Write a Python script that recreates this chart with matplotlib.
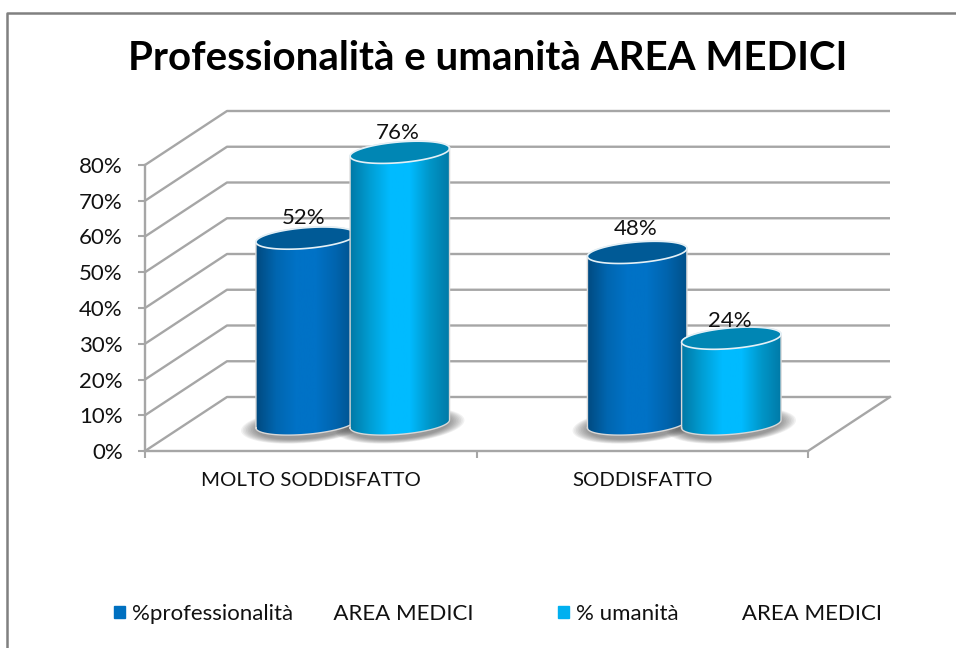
import matplotlib
matplotlib.use("Agg")
import matplotlib.pyplot as plt
import numpy as np
from matplotlib.colors import LinearSegmentedColormap
from matplotlib.patches import Patch, Polygon

plt.rcParams['font.family'] = ['Lato', 'DejaVu Sans']

# data
title = "Professionalità e umanità AREA MEDICI"
categories = ["MOLTO SODDISFATTO", "SODDISFATTO"]
series_names = ["%professionalità       AREA MEDICI", "% umanità           AREA MEDICI"]
professionalita = [52, 48]
umanita = [76, 24]
y_ticks = [0, 10, 20, 30, 40, 50, 60, 70, 80]

# style
W, H = 956, 648
GRID = "#a6a6a6"
DEPTH_X = 82 / 331.5   # depth of the box in data units
DEPTH_Y = 54 / 3.575
BAR_W = 0.30
SHIFT = 0.142
RY = 2.9               # half height of the ellipses, in % units
SLOPE = 0.08 * 331.5 / 3.575   # tilt of the ellipses
colors = ["#0070c0", "#00b0f0"]
tops = ["#005a96", "#0086b4"]
grads = [["#004a80", "#0066b0", "#0072c6", "#0072c6", "#0064ae", "#00508a"],
         ["#0079a6", "#009ed4", "#00bbff", "#00bbff", "#0096c8", "#0079a6"]]
label_up = [[5.5, 6.5], [5.5, 4.8]]

fig = plt.figure(figsize=(W / 100, H / 100), dpi=100)
ax = fig.add_axes([145 / W, 1 - 451 / H, (808 - 145) / W, (451 - 165) / H])
ax.patch.set_alpha(0)

# outer frame, open on the right and at the bottom
fig.add_artist(plt.Line2D([7 / W, 7 / W, 1], [0, 1 - 13 / H, 1 - 13 / H],
                          color="#808080", lw=1.8))
fig.text(488 / W, 1 - 58 / H, title, ha="center", va="center",
         fontsize=29, fontweight="bold", color="black")

# back wall and side
for v in y_ticks:
    ax.plot([0, DEPTH_X, 2 + DEPTH_X], [v, v + DEPTH_Y, v + DEPTH_Y],
            color=GRID, lw=1.7, clip_on=False, zorder=1, solid_capstyle="butt")
ax.plot([2, 2 + DEPTH_X], [0, DEPTH_Y], color=GRID, lw=1.7, clip_on=False, zorder=1)


def ellipse(cx, cy, a, b, t):
    return cx + a * np.cos(t), cy + b * np.sin(t) + SLOPE * a * np.cos(t)


def cylinder(cx, value, grad, top, z):
    base = DEPTH_Y / 2
    a = BAR_W / 2
    # shadow
    for k in np.linspace(1.3, 1.0, 10):
        x, y = ellipse(cx, base - 0.4, a * k, RY * k * 1.3, np.linspace(0, 2 * np.pi, 80))
        ax.fill(x, y, color="#404040", alpha=0.07, lw=0, clip_on=False, zorder=2)
    # body
    xb, yb = ellipse(cx, base, a, RY, np.linspace(np.pi, 2 * np.pi, 50))
    xt, yt = ellipse(cx, base + value, a, RY, np.linspace(0, np.pi, 50))
    body = Polygon(np.column_stack([np.r_[xb, xt], np.r_[yb, yt]]), closed=True,
                   transform=ax.transData)
    cmap = LinearSegmentedColormap.from_list("g", grad)
    im = ax.imshow(np.linspace(0, 1, 128).reshape(1, -1), cmap=cmap, aspect="auto",
                   extent=[cx - a, cx + a, -10, 100], zorder=z)
    im.set_clip_box(fig.bbox)
    im.set_clip_path(body)
    ax.plot(np.r_[xb, xt, xb[0]], np.r_[yb, yt, yb[0]], color="#d8d8d8", lw=1.0,
            clip_on=False, zorder=z + 0.1)
    # top face
    x, y = ellipse(cx, base + value, a, RY, np.linspace(0, 2 * np.pi, 100))
    ax.fill(x, y, color=top, lw=0, clip_on=False, zorder=z + 0.2)
    ax.plot(x, y, color="#e4f0f6", lw=1.2, clip_on=False, zorder=z + 0.3)


for i in range(2):
    center = i + 0.503 + DEPTH_X / 2
    for j, vals in enumerate([professionalita, umanita]):
        cx = center + (j * 2 - 1) * SHIFT
        cylinder(cx, vals[i], grads[j], tops[j], 3 + i * 2 + j)
        ax.text(cx - 0.005, DEPTH_Y / 2 + vals[i] + label_up[j][i], f"{vals[i]}%", ha="center",
                va="center", fontsize=16, color="#111111", zorder=10)

ax.set_xlim(0, 2)
ax.set_ylim(0, 80)
ax.set_yticks(y_ticks)
ax.set_yticklabels([f"{v}%" for v in y_ticks])
ax.set_xticks([0, 1, 2])
ax.set_xticklabels([])
ax.set_xticks([0.5, 1.5], minor=True)
ax.set_xticklabels(categories, minor=True)
for s in ["top", "right"]:
    ax.spines[s].set_visible(False)
for s in ["left", "bottom"]:
    ax.spines[s].set_color(GRID)
    ax.spines[s].set_linewidth(1.7)
ax.tick_params(axis="both", which="major", color=GRID, width=1.5, length=5)
ax.tick_params(axis="y", labelsize=16, pad=11, labelcolor="#111111")
ax.tick_params(axis="x", which="minor", length=0, pad=15, labelsize=14.7, labelcolor="#111111")

handles = [Patch(color=c) for c in colors]
fig.legend(handles, series_names, loc="center", bbox_to_anchor=(498 / W, 1 - 614 / H), ncol=2,
           frameon=False, fontsize=16, handlelength=0.5, handleheight=0.5,
           handletextpad=0.3, columnspacing=3.8, labelcolor="#111111")

fig.savefig("out.png", dpi=100)
